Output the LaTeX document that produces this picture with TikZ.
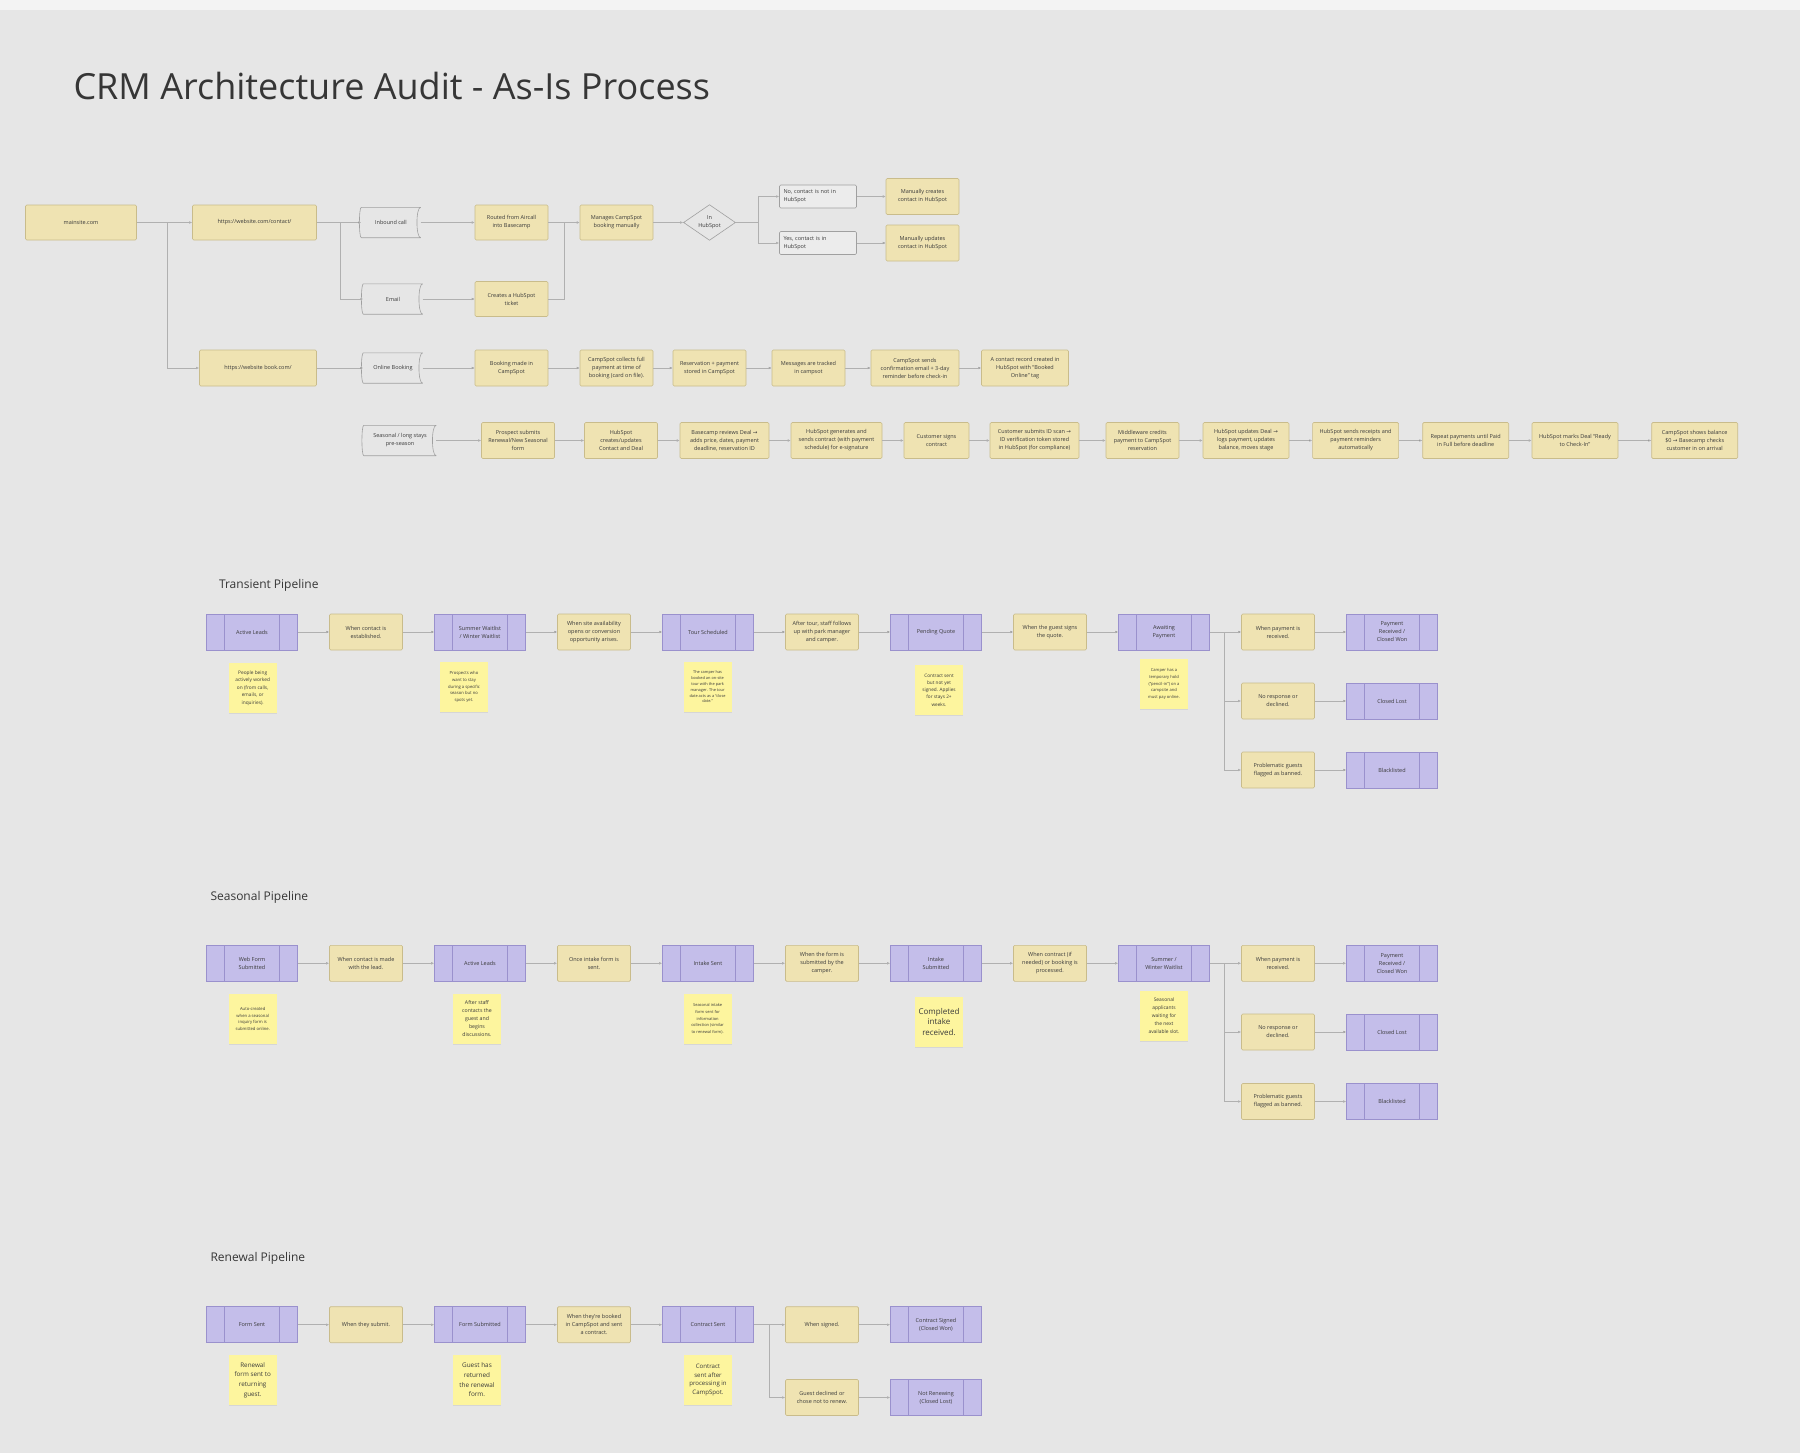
\documentclass[tikz,border=0pt]{standalone}
\usepackage{fontspec}
\setmainfont{Open Sans}
\newfontfamily\arrowfont{DejaVu Sans}
\usetikzlibrary{arrows.meta, shapes.geometric, shadows}

\definecolor{canvas}{HTML}{E6E6E6}
\definecolor{topbar}{HTML}{F3F3F3}
\definecolor{boxfill}{HTML}{EFE3B2}
\definecolor{boxline}{HTML}{C9BC8B}
\definecolor{stagefill}{HTML}{C4BEEA}
\definecolor{stageline}{HTML}{9A91CD}
\definecolor{notefill}{HTML}{FDF59E}
\definecolor{greyline}{HTML}{A0A0A0}
\definecolor{flowline}{HTML}{B0B0B0}
\definecolor{txt}{HTML}{3A3A3A}
\definecolor{titletxt}{HTML}{363636}

\newcommand{\fs}[2]{\fontsize{#1}{#2}\selectfont}
\newcommand{\toarrow}{{\arrowfont →}}
\newcommand{\sourceoutline}[1]{\draw[greyline, line width=0.6pt, line join=round]
  (#1.north west) .. controls ([xshift=-2.5pt]#1.north west) and ([xshift=-2.5pt]#1.south west) .. (#1.south west) -- (#1.south east)
  .. controls ([xshift=-5pt]#1.south east) and ([xshift=-5pt]#1.north east) .. (#1.north east) -- cycle;}

\begin{document}
\begin{tikzpicture}[x=1pt, y=-1pt,
    box/.style={draw=boxline, fill=boxfill, rounded corners=1.2pt, line width=0.6pt, minimum width=73pt, minimum height=36pt, inner sep=1pt, align=center, text=txt, font=\fs{5.5}{8}},
    cond/.style={box},
    stage/.style={draw=stageline, fill=stagefill, line width=0.6pt, minimum width=91pt, minimum height=36pt, inner sep=1pt, align=center, text=txt, font=\fs{5.5}{8},
      path picture={\draw[stageline, line width=0.6pt] ([xshift=18pt]path picture bounding box.north west) -- ([xshift=18pt]path picture bounding box.south west)
        ([xshift=-18pt]path picture bounding box.north east) -- ([xshift=-18pt]path picture bounding box.south east);}},
    source/.style={minimum width=59pt, minimum height=30pt, inner sep=1pt, align=center, text=txt, font=\fs{5.5}{8}},
    answer/.style={draw=greyline, fill=canvas!75!white, rounded corners=1.2pt, line width=0.6pt, text width=69pt, minimum height=23pt, inner sep=4pt, align=left, text=txt, font=\fs{5.5}{8}},
    decision/.style={diamond, draw=greyline, line width=0.6pt, minimum width=52pt, minimum height=35pt, inner sep=0pt, align=center, text=txt, font=\fs{5.5}{8}},
    note/.style={fill=notefill, minimum width=48pt, minimum height=50pt, inner sep=1pt, align=center, text=txt, drop shadow={opacity=0.15, shadow xshift=0pt, shadow yshift=-1.2pt}},
    heading/.style={anchor=base west, text=titletxt, font=\fs{12}{15}},
    flow/.style={draw=flowline, line width=0.6pt, -{Latex[length=3pt, width=2.6pt]}},
    link/.style={draw=flowline, line width=0.6pt},
  ]
  \useasboundingbox (0,0) rectangle (1800,1453);
  \fill[canvas] (0,0) rectangle (1800,1453);
  \fill[topbar] (0,0) rectangle (1800,10);

  \node[anchor=base west, text=titletxt, font=\fs{36}{40}] (title) at (70,100) {CRM Architecture Audit - As-Is Process};

  \node[box, minimum width=111pt, minimum height=35pt] (mainsite) at (81,222.5) {mainsite.com};
  \node[box, minimum width=124pt, minimum height=35pt] (contact) at (254.5,222.5) {https://website.com/contact/};
  \node[box, minimum width=117pt] (book) at (258,368) {https://website book.com/};
  \node[source] (call) at (391,222.5) {Inbound call};
  \node[source] (email) at (393,299) {Email};
  \node[source] (online) at (393,368) {Online Booking};
  \node[source, minimum width=72pt] (longstay) at (400,440.5) {Seasonal / long stays\\pre-season};
  \sourceoutline{call}
  \sourceoutline{email}
  \sourceoutline{online}
  \sourceoutline{longstay}
  \node[box, minimum height=35pt] (aircall) at (511.5,222.5) {Routed from Aircall\\into Basecamp};
  \node[box, minimum height=35pt] (ticket) at (511.5,299) {Creates a HubSpot\\ticket};
  \node[box, minimum height=35pt] (manual) at (616.5,222.5) {Manages CampSpot\\booking manually};
  \node[decision] (inhub) at (709.5,222.5) {In\\HubSpot};
  \node[answer] (notin) at (818,196.5) {No, contact is not in\\HubSpot};
  \node[answer] (isin) at (818,243) {Yes, contact is in\\HubSpot};
  \node[box] (create) at (922.5,196.5) {Manually creates\\contact in HubSpot};
  \node[box] (update) at (922.5,243) {Manually updates\\contact in HubSpot};

  \node[box] (made) at (511.5,368) {Booking made in\\CampSpot};
  \node[box] (collect) at (616.5,368) {CampSpot collects full\\payment at time of\\booking (card on file).};
  \node[box] (stored) at (709.5,368) {Reservation + payment\\stored in CampSpot};
  \node[box] (tracked) at (808.5,368) {Messages are tracked\\in campsot};
  \node[box, minimum width=88pt] (remind) at (915,368) {CampSpot sends\\confirmation email + 3-day\\reminder before check-in};
  \node[box, minimum width=87pt] (record) at (1025,368) {A contact record created in\\HubSpot with “Booked\\Online” tag};

  \node[box] (prospect) at (518,440.5) {Prospect submits\\Renewal/New Seasonal\\form};
  \node[box] (upsert) at (621,440.5) {HubSpot\\creates/updates\\Contact and Deal};
  \node[box, minimum width=89pt] (review) at (724.5,440.5) {Basecamp reviews Deal \toarrow\\adds price, dates, payment\\deadline, reservation ID};
  \node[box, minimum width=91pt] (esign) at (836.5,440.5) {HubSpot generates and\\sends contract (with payment\\schedule) for e-signature};
  \node[box, minimum width=65pt] (signs) at (936.5,440.5) {Customer signs\\contract};
  \node[box, minimum width=89pt] (idscan) at (1034.5,440.5) {Customer submits ID scan \toarrow\\ID verification token stored\\in HubSpot (for compliance)};
  \node[box] (credit) at (1142.5,440.5) {Middleware credits\\payment to CampSpot\\reservation};
  \node[box, minimum width=86pt] (logpay) at (1246,440.5) {HubSpot updates Deal \toarrow\\logs payment, updates\\balance, moves stage};
  \node[box, minimum width=86pt] (receipts) at (1355.6,440.5) {HubSpot sends receipts and\\payment reminders\\automatically};
  \node[box, minimum width=86pt] (repeat) at (1465.7,440.5) {Repeat payments until Paid\\in Full before deadline};
  \node[box, minimum width=86pt] (ready) at (1575,440.5) {HubSpot marks Deal “Ready\\to Check-In”};
  \node[box, minimum width=86pt] (arrival) at (1694.7,440.5) {CampSpot shows balance\\\$0 \toarrow\ Basecamp checks\\customer in on arrival};

  \coordinate (msplit) at (167,222.5);
  \coordinate (csplit) at (340,222.5);
  \coordinate (merge) at (564.5,222.5);
  \coordinate (hsplit) at (758.5,222.5);
  \draw[flow] (mainsite) edge (contact) (contact) edge (call) (call) edge (aircall) (aircall) edge (manual) (manual) edge (inhub);
  \draw[flow] (msplit) |- (book);
  \draw[flow] (csplit) |- (email);
  \draw[flow] (email) edge (ticket);
  \draw[link] (ticket) -| (merge);
  \draw[link] (inhub) -- (hsplit);
  \draw[flow] (hsplit) |- (notin);
  \draw[flow] (hsplit) |- (isin);
  \draw[flow] (notin) edge (create) (isin) edge (update);
  \draw[flow] (book) edge (online) (online) edge (made) (made) edge (collect) (collect) edge (stored) (stored) edge (tracked) (tracked) edge (remind) (remind) edge (record);
  \draw[flow] (longstay) edge (prospect) (prospect) edge (upsert) (upsert) edge (review) (review) edge (esign) (esign) edge (signs) (signs) edge (idscan)
    (idscan) edge (credit) (credit) edge (logpay) (logpay) edge (receipts) (receipts) edge (repeat) (repeat) edge (ready) (ready) edge (arrival);

  \node[heading] (transient) at (215.5,588) {Transient Pipeline};
  \node[stage] (tactive) at (252,632) {Active Leads};
  \node[cond] (tcontact) at (366,632) {When contact is\\established.};
  \node[stage] (twait) at (480,632) {Summer Waitlist\\/ Winter Waitlist};
  \node[cond] (topen) at (594,632) {When site availability\\opens or conversion\\opportunity arises.};
  \node[stage] (ttour) at (708,632) {Tour Scheduled};
  \node[cond] (tfollow) at (822,632) {After tour, staff follows\\up with park manager\\and camper.};
  \node[stage] (tquote) at (936,632) {Pending Quote};
  \node[cond] (tsigns) at (1050,632) {When the guest signs\\the quote.};
  \node[stage] (tawait) at (1164,632) {Awaiting\\Payment};
  \node[cond] (tpaid) at (1278,632) {When payment is\\received.};
  \node[stage] (twon) at (1392,632) {Payment\\Received /\\Closed Won};
  \node[cond] (tnoreply) at (1278,701) {No response or\\declined.};
  \node[stage] (tlost) at (1392,701) {Closed Lost};
  \node[cond] (tbanned) at (1278,770) {Problematic guests\\flagged as banned.};
  \node[stage] (tblack) at (1392,770) {Blacklisted};
  \node[note, font=\fs{4.8}{7.5}] (tnote1) at (252.7,688) {People being\\actively worked\\on (from calls,\\emails, or\\inquiries).};
  \node[note, font=\fs{4.2}{6.7}] (tnote2) at (464,687) {Prospects who\\want to stay\\during a specific\\season but no\\spots yet.};
  \node[note, font=\fs{3.9}{5.8}] (tnote3) at (707.6,687) {The camper has\\booked an on-site\\tour with the park\\manager. The tour\\date acts as a “close\\date.”};
  \node[note, font=\fs{4.7}{7.3}] (tnote4) at (939,690) {Contract sent\\but not yet\\signed. Applies\\for stays 2+\\weeks.};
  \node[note, font=\fs{4.1}{6.7}] (tnote5) at (1164,684) {Camper has a\\temporary hold\\(“pencil-in”) on a\\campsite and\\must pay online.};
  \coordinate (tsplit) at (1224.5,632);
  \draw[flow] (tactive) edge (tcontact) (tcontact) edge (twait) (twait) edge (topen) (topen) edge (ttour) (ttour) edge (tfollow)
    (tfollow) edge (tquote) (tquote) edge (tsigns) (tsigns) edge (tawait) (tawait) edge (tpaid) (tpaid) edge (twon);
  \draw[flow] (tsplit) |- (tnoreply);
  \draw[flow] (tsplit) |- (tbanned);
  \draw[flow] (tnoreply) edge (tlost) (tbanned) edge (tblack);

  \node[heading] (seasonal) at (207,900.5) {Seasonal Pipeline};
  \node[stage] (swebform) at (252,963.3) {Web Form\\Submitted};
  \node[cond] (smade) at (366,963.3) {When contact is made\\with the lead.};
  \node[stage] (sactive) at (480,963.3) {Active Leads};
  \node[cond] (ssent) at (594,963.3) {Once intake form is\\sent.};
  \node[stage] (sintake) at (708,963.3) {Intake Sent};
  \node[cond] (ssubmit) at (822,963.3) {When the form is\\submitted by the\\camper.};
  \node[stage] (sdone) at (936,963.3) {Intake\\Submitted};
  \node[cond] (sprocess) at (1050,963.3) {When contract (if\\needed) or booking is\\processed.};
  \node[stage] (swait) at (1164,963.3) {Summer /\\Winter Waitlist};
  \node[cond] (spaid) at (1278,963.3) {When payment is\\received.};
  \node[stage] (swon) at (1392,963.3) {Payment\\Received /\\Closed Won};
  \node[cond] (snoreply) at (1278,1032) {No response or\\declined.};
  \node[stage] (slost) at (1392,1032) {Closed Lost};
  \node[cond] (sbanned) at (1278,1101.5) {Problematic guests\\flagged as banned.};
  \node[stage] (sblack) at (1392,1101.5) {Blacklisted};
  \node[note, font=\fs{4.2}{6.7}] (snote1) at (252.7,1019) {Auto-created\\when a seasonal\\inquiry form is\\submitted online.};
  \node[note, font=\fs{5.2}{8}] (snote2) at (477,1019) {After staff\\contacts the\\guest and\\begins\\discussions.};
  \node[note, font=\fs{4}{6.7}] (snote3) at (707.6,1019) {Seasonal intake\\form sent for\\information\\collection (similar\\to renewal form).};
  \node[note, font=\fs{8}{10.3}] (snote4) at (939,1022) {Completed\\intake\\received.};
  \node[note, font=\fs{4.9}{8}] (snote5) at (1164,1015.5) {Seasonal\\applicants\\waiting for\\the next\\available slot.};
  \coordinate (ssplit) at (1224.5,963.3);
  \draw[flow] (swebform) edge (smade) (smade) edge (sactive) (sactive) edge (ssent) (ssent) edge (sintake) (sintake) edge (ssubmit)
    (ssubmit) edge (sdone) (sdone) edge (sprocess) (sprocess) edge (swait) (swait) edge (spaid) (spaid) edge (swon);
  \draw[flow] (ssplit) |- (snoreply);
  \draw[flow] (ssplit) |- (sbanned);
  \draw[flow] (snoreply) edge (slost) (sbanned) edge (sblack);

  \node[heading] (renewal) at (207,1261.7) {Renewal Pipeline};
  \node[stage] (rsent) at (252,1324.7) {Form Sent};
  \node[cond] (rsubmit) at (366,1324.7) {When they submit.};
  \node[stage] (rreturned) at (480,1324.7) {Form Submitted};
  \node[cond] (rbooked) at (594,1324.7) {When they’re booked\\in CampSpot and sent\\a contract.};
  \node[stage] (rcontract) at (708,1324.7) {Contract Sent};
  \node[cond] (rsigned) at (822,1324.7) {When signed.};
  \node[stage] (rwon) at (936,1324.7) {Contract Signed\\(Closed Won)};
  \node[cond] (rdeclined) at (822,1397.5) {Guest declined or\\chose not to renew.};
  \node[stage] (rlost) at (936,1397.5) {Not Renewing\\(Closed Lost)};
  \node[note, font=\fs{6.3}{9.6}] (rnote1) at (252.7,1380) {Renewal\\form sent to\\returning\\guest.};
  \node[note, font=\fs{6.4}{9.6}] (rnote2) at (477,1380) {Guest has\\returned\\the renewal\\form.};
  \node[note, font=\fs{6.1}{8.7}] (rnote3) at (708,1380) {Contract\\sent after\\processing in\\CampSpot.};
  \coordinate (rsplit) at (769,1324.7);
  \draw[flow] (rsent) edge (rsubmit) (rsubmit) edge (rreturned) (rreturned) edge (rbooked) (rbooked) edge (rcontract)
    (rcontract) edge (rsigned) (rsigned) edge (rwon);
  \draw[flow] (rsplit) |- (rdeclined);
  \draw[flow] (rdeclined) edge (rlost);
\end{tikzpicture}
\end{document}
